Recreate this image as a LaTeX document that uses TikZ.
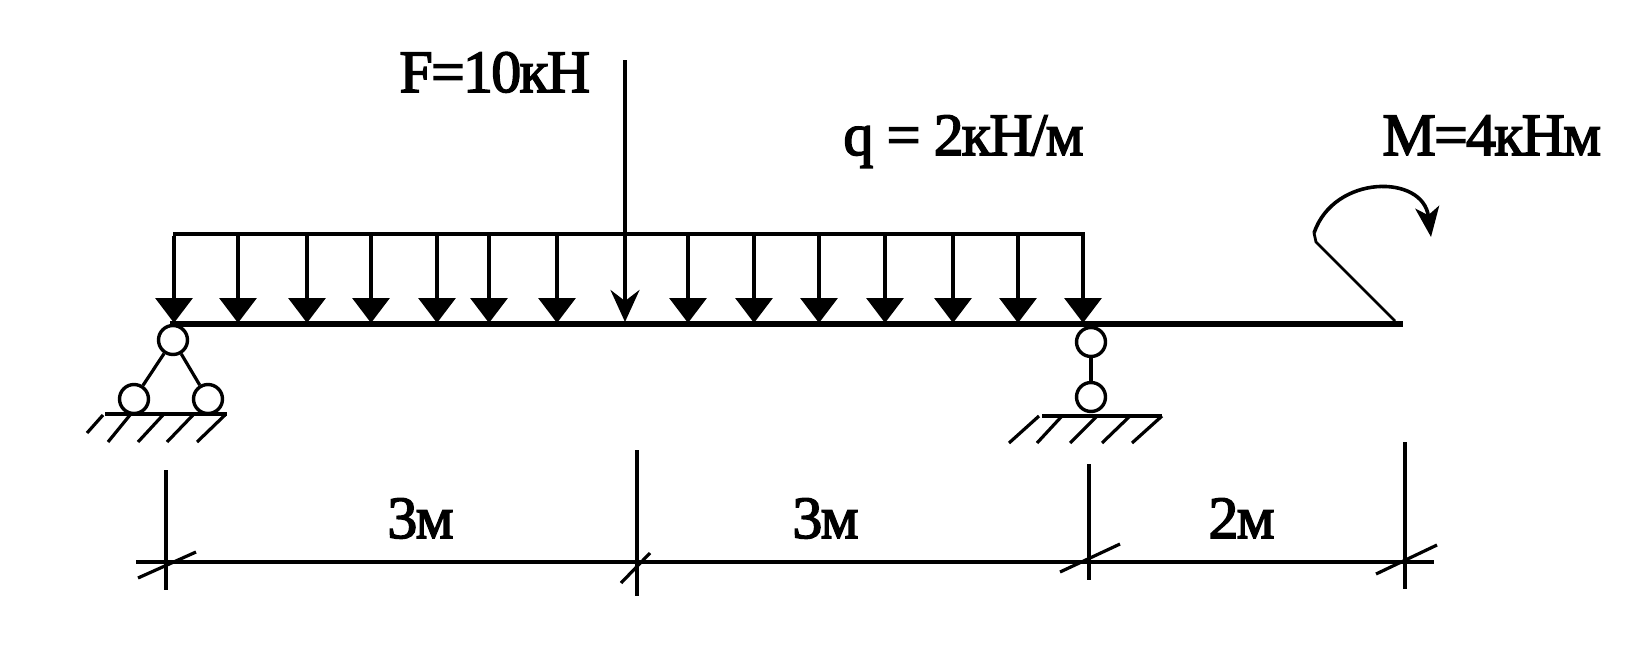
\documentclass[tikz,border=0pt]{standalone}
\usepackage{fontspec}
\setmainfont{Liberation Serif}
\usetikzlibrary{arrows.meta}
\tikzset{
	pin/.style={circle,draw,line width=1.7pt,fill=white,minimum size=14.5pt,inner sep=0pt},
	load/.style={line width=1.7pt,-{Triangle[length=12.5pt,width=18.5pt]}},
	label/.style={anchor=base west,inner sep=0pt,font=\fontsize{30}{30}\selectfont\addfontfeatures{LetterSpace=-3,FakeBold=2.5}},
	thin line/.style={line width=1.6pt}
}
\begin{document}
\begin{tikzpicture}[x=0.5pt,y=-0.5pt]
	\useasboundingbox (0,0) rectangle (1631,653);
	% uniform load
	\coordinate (q-l) at (173,234);
	\coordinate (q-r) at (1085,234);
	\draw[thin line] (q-l) -- (q-r);
	\foreach \X in {174,238,307,371,437,489,557,688,754,819,885,953,1018,1083}
	{\coordinate (t-\X) at (\X,236);
		\coordinate (b-\X) at (\X,323);
		\draw[load] (t-\X) -- (b-\X);}
	% beam
	\coordinate (b-l) at (170,324);
	\coordinate (b-r) at (1403,324);
	\draw[line width=3.3pt] (b-l) -- (b-r);
	% force
	\coordinate (f-t) at (625,60);
	\coordinate (f-b) at (625,322);
	\draw[line width=1.9pt,-{Stealth[length=16pt,width=14.5pt,inset=5.5pt]}] (f-t) -- (f-b);
	% left support
	\node[pin] (p1) at (173,340) {};
	\node[pin] (p2) at (134,399) {};
	\node[pin] (p3) at (208,399) {};
	\draw[thin line] (p1) -- (p2);
	\draw[thin line] (p1) -- (p3);
	\coordinate (g1-l) at (105,414);
	\coordinate (g1-r) at (227,414);
	\draw[thin line] (g1-l) -- (g1-r);
	\foreach \X/\Y/\Z in {103/87/433,130/108/442,163/138/442,193/167/442,225/197/442}
	{\coordinate (h-\X) at (\X,415);
		\coordinate (e-\X) at (\Y,\Z);
		\draw[thin line] (h-\X) -- (e-\X);}
	% right support
	\node[pin] (p4) at (1091,342) {};
	\node[pin] (p5) at (1091,397) {};
	\draw[thin line] (p4) -- (p5);
	\coordinate (g2-l) at (1042,416);
	\coordinate (g2-r) at (1162,416);
	\draw[thin line] (g2-l) -- (g2-r);
	\foreach \X/\Y in {1039/1009,1062/1037,1097/1070,1130/1102,1162/1132}
	{\coordinate (h-\X) at (\X,416);
		\coordinate (e-\X) at (\Y,443);
		\draw[thin line] (h-\X) -- (e-\X);}
	% moment
	\coordinate (m-a) at (1395,321);
	\coordinate (m-d) at (1316,242);
	\coordinate (m-b) at (1314,233);
	\coordinate (m-c) at (1431,237);
	\draw[line width=1.4pt] (m-a) -- (m-d) -- (m-b);
	\draw[line width=1.8pt,-{Stealth[length=15pt,width=12pt,inset=4pt]}] (m-b) .. controls (1334,174) and (1423,174) .. (m-c);
	% dimensions
	\coordinate (d-l) at (136,562);
	\coordinate (d-r) at (1434,562);
	\draw[thin line] (d-l) -- (d-r);
	\foreach \X/\Y/\Z/\A/\B/\C/\D in {166/470/590/138/578/196/552,637/450/596/621/583/650/553,1089/464/580/1060/572/1120/544,1405/442/589/1376/574/1437/545}
	{\coordinate (u-\X) at (\X,\Y);
		\coordinate (v-\X) at (\X,\Z);
		\draw[line width=1.8pt] (u-\X) -- (v-\X);
		\coordinate (s-\X) at (\A,\B);
		\coordinate (r-\X) at (\C,\D);
		\draw[thin line] (s-\X) -- (r-\X);}
	% labels
	\node[label] (lF) at (399,92) {F=10кН};
	\node[label] (lq) at (843,155) {q = 2кН/м};
	\node[label] (lM) at (1382,155) {M=4кНм};
	\node[label] (l1) at (387,538) {3м};
	\node[label] (l2) at (792,538) {3м};
	\node[label] (l3) at (1208,538) {2м};
\end{tikzpicture}
\end{document}
